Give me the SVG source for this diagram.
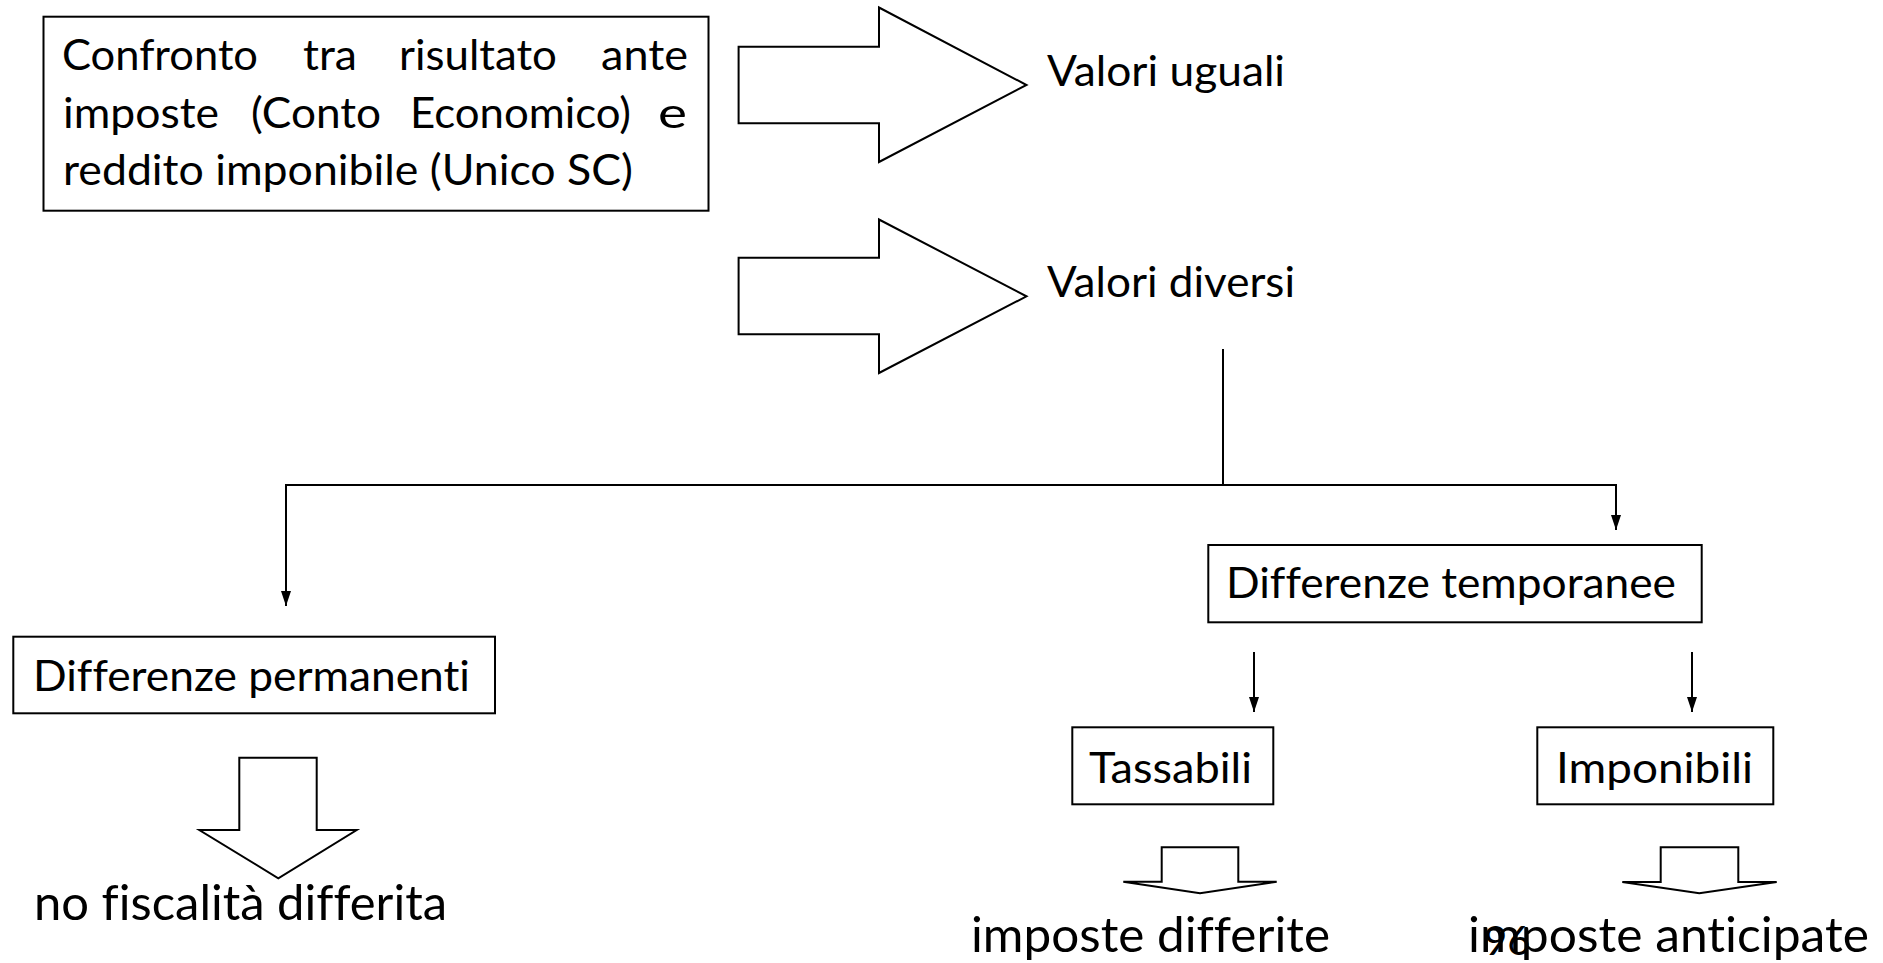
<svg xmlns="http://www.w3.org/2000/svg" width="1883" height="963" viewBox="0 0 1883 963">
<style>
.box{fill:#fff;stroke:#000;stroke-width:2}
.blk{fill:#fff;stroke:#000;stroke-width:2;stroke-linejoin:miter}
.conn{fill:none;stroke:#000;stroke-width:2}
.t{font-family:Lato,"Liberation Sans",sans-serif;font-size:43px;fill:#000;font-variant-ligatures:none}
.tb{font-family:Lato,"Liberation Sans",sans-serif;font-size:48px;fill:#000;font-variant-ligatures:none}
.pg{font-family:Lato,"Liberation Sans",sans-serif;font-size:40px;fill:#000}
</style>
<defs>
<marker id="ah" viewBox="0 0 15 10" markerWidth="15" markerHeight="10" refX="15" refY="5" orient="auto" markerUnits="userSpaceOnUse">
<path d="M0,0 L15,5 L0,10 z" fill="#000"/>
</marker>
</defs>
<rect x="0" y="0" width="1883" height="963" fill="#fff"/>

<g id="confronto">
<rect class="box" x="43.5" y="16.7" width="665" height="194"/>
<text class="t" y="70"><tspan x="62" textLength="196" lengthAdjust="spacingAndGlyphs">Confronto</tspan><tspan x="303" textLength="54" lengthAdjust="spacingAndGlyphs">tra</tspan><tspan x="399" textLength="158" lengthAdjust="spacingAndGlyphs">risultato</tspan><tspan x="601" textLength="87" lengthAdjust="spacingAndGlyphs">ante</tspan></text>
<text class="t" y="127.5"><tspan x="63" textLength="156" lengthAdjust="spacingAndGlyphs">imposte</tspan><tspan x="251" textLength="130" lengthAdjust="spacingAndGlyphs">(Conto</tspan><tspan x="410" textLength="221" lengthAdjust="spacingAndGlyphs">Economico)</tspan><tspan x="658" textLength="29" lengthAdjust="spacingAndGlyphs">e</tspan></text>
<text class="t" x="63" y="185" textLength="570" lengthAdjust="spacingAndGlyphs">reddito imponibile (Unico SC)</text>
</g>

<g id="arrow-uguali">
<polygon class="blk" points="738.6,46.7 879,46.7 879,7.5 1026.5,85 879,162 879,123.3 738.6,123.3"/>
</g>
<g id="valori-uguali">
<text class="t" x="1047" y="85.7" textLength="238" lengthAdjust="spacingAndGlyphs">Valori uguali</text>
</g>

<g id="arrow-diversi">
<polygon class="blk" points="738.6,257.7 879,257.7 879,219.5 1026.5,296.3 879,373 879,334.3 738.6,334.3"/>
</g>
<g id="valori-diversi">
<text class="t" x="1047" y="296.7" textLength="248" lengthAdjust="spacingAndGlyphs">Valori diversi</text>
</g>

<g id="connectors">
<line class="conn" x1="1223" y1="349" x2="1223" y2="485"/>
<line class="conn" x1="285" y1="485" x2="1617" y2="485"/>
<path class="conn" d="M286,485 L286,606" marker-end="url(#ah)"/>
<path class="conn" d="M1616,485 L1616,530" marker-end="url(#ah)"/>
<path class="conn" d="M1254,652 L1254,712" marker-end="url(#ah)"/>
<path class="conn" d="M1692,652 L1692,712" marker-end="url(#ah)"/>
</g>

<g id="permanenti">
<rect class="box" x="13.3" y="636.7" width="481.7" height="76.6"/>
<text class="t" x="33" y="691" textLength="437" lengthAdjust="spacingAndGlyphs">Differenze permanenti</text>
</g>
<g id="arrow-permanenti">
<polygon class="blk" points="239.3,757.7 316.7,757.7 316.7,830 356.7,830 278.3,878.3 199.3,830 239.3,830"/>
</g>
<g id="no-fiscalita">
<text class="tb" x="34" y="920" textLength="413" lengthAdjust="spacingAndGlyphs">no fiscalità differita</text>
</g>

<g id="temporanee">
<rect class="box" x="1208.3" y="545" width="493.4" height="77.3"/>
<text class="t" x="1226" y="598.3" textLength="450" lengthAdjust="spacingAndGlyphs">Differenze temporanee</text>
</g>

<g id="tassabili">
<rect class="box" x="1072.3" y="727.3" width="201" height="77"/>
<text class="t" x="1089" y="783.3" textLength="163" lengthAdjust="spacingAndGlyphs">Tassabili</text>
</g>
<g id="imponibili">
<rect class="box" x="1537.3" y="727.3" width="236" height="77"/>
<text class="t" x="1556" y="783.3" textLength="197" lengthAdjust="spacingAndGlyphs">Imponibili</text>
</g>

<g id="arrow-tassabili">
<polygon class="blk" points="1161.7,847.3 1238.3,847.3 1238.3,881.7 1276.7,881.7 1200,893.3 1123.3,881.7 1161.7,881.7"/>
</g>
<g id="arrow-imponibili">
<polygon class="blk" points="1660.7,847.3 1738.3,847.3 1738.3,882 1776.7,882 1699.3,893.3 1622.3,882 1660.7,882"/>
</g>

<g id="imposte-differite">
<text class="tb" x="971" y="951.7" textLength="359" lengthAdjust="spacingAndGlyphs">imposte differite</text>
</g>
<g id="imposte-anticipate">
<text class="tb" x="1468" y="951.7" textLength="401" lengthAdjust="spacingAndGlyphs">imposte anticipate</text>
</g>
<g id="page-number">
<text class="pg" x="1484" y="955">96</text>
</g>
</svg>
